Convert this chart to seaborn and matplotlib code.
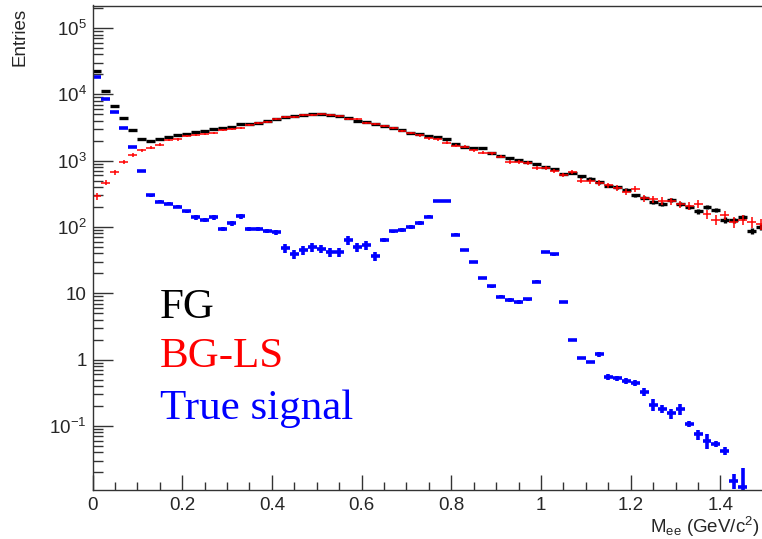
import numpy as np
import pandas as pd
import matplotlib
matplotlib.use("Agg")
import matplotlib.pyplot as plt
import seaborn as sns
from matplotlib.ticker import FixedLocator, FixedFormatter, LogLocator, MultipleLocator, NullFormatter

# ---------------- data ----------------
bin_width = 0.02  # GeV/c^2, first bin starts at 0

fg = [22500, 11400, 6760, 4360, 2900, 2100, 2004, 2100, 2253, 2443,
      2500, 2710, 2805, 2978, 3083, 3260, 3540, 3565, 3740, 4010,
      4210, 4560, 4770, 4940, 5010, 5010, 4940, 4720, 4360, 4010,
      3835, 3580, 3375, 3113, 2875, 2590, 2500, 2333, 2253, 2147,
      1805, 1626, 1538, 1570, 1321, 1165, 1087, 1035, 966, 901,
      812, 741, 630, 659, 582, 535, 472, 420, 395, 365,
      301, 277, 236, 225, 255, 220, 203, 172, 198, 180,
      128, 126, 140, 88, 101, 98]

bg_ls = [294, 466, 669, 955, 1220, 1435, 1570, 1743, 2052, 2100,
         2360, 2443, 2555, 2645, 2904, 3008, 3113, 3452, 3665, 3835,
         4210, 4520, 4520, 4840, 4940, 5010, 4890, 4720, 4256, 4220,
         3740, 3580, 3335, 3113, 2835, 2590, 2415, 2177, 2103, 1870,
         1683, 1626, 1450, 1321, 1294, 1150, 966, 946, 923, 768,
         777, 700, 609, 676, 499, 494, 460, 425, 392, 340,
         370, 271, 260, 250, 245, 220, 207, 222, 155, 128,
         150, 120, 128, 120, 111, 101]

true_signal = [18300, 8430, 5370, 3150, 1627, 692, 301, 241, 225, 203,
               174, 140, 128, 140, 94, 114, 145, 94, 94, 87,
               83, 48, 39, 45, 50, 47, 41.5, 41.5, 63, 50,
               53, 36, 64, 86, 90, 100, 116, 143, 249, 249,
               77, 44.5, 29.7, 17.2, 12.7, 8.9, 8.0, 7.4, 8.1, 15,
               41.5, 38.7, 7.4, 1.98, 1.06, 0.92, 1.2, 0.55, 0.52, 0.48,
               0.45, 0.33, 0.21, 0.18, 0.155, 0.18, 0.106, 0.075, 0.060, 0.054,
               0.042, 0.0148, 0.0121, np.nan, np.nan, np.nan]

# relative statistical error of the true signal
signal_rel_err = [0.01, 0.01, 0.01, 0.01, 0.01, 0.01, 0.05, 0.05, 0.05, 0.05,
                  0.05, 0.08, 0.08, 0.08, 0.08, 0.08, 0.08, 0.08, 0.08, 0.08,
                  0.08, 0.15, 0.15, 0.15, 0.15, 0.15, 0.15, 0.15, 0.15, 0.15,
                  0.15, 0.15, 0.06, 0.06, 0.06, 0.06, 0.06, 0.06, 0.03, 0.03,
                  0.04, 0.04, 0.04, 0.04, 0.04, 0.06, 0.06, 0.06, 0.06, 0.04,
                  0.04, 0.04, 0.04, 0.05, 0.05, 0.05, 0.08, 0.10, 0.10, 0.10,
                  0.10, 0.13, 0.20, 0.13, 0.17, 0.20, 0.10, 0.17, 0.24, 0.10,
                  0.13, 0.25, 0.90, 0.0, 0.0, 0.0]

series_names = ["FG", "BG-LS", "True signal"]
series_colors = ["black", "#ff0000", "#0000ff"]

x_tick_values = [0, 0.2, 0.4, 0.6, 0.8, 1.0, 1.2, 1.4]
x_tick_labels = ["0", "0.2", "0.4", "0.6", "0.8", "1", "1.2", "1.4"]
y_tick_values = [1e5, 1e4, 1e3, 1e2, 10, 1, 0.1]
y_tick_labels = [r"$\mathregular{10^{5}}$", r"$\mathregular{10^{4}}$", r"$\mathregular{10^{3}}$",
                 r"$\mathregular{10^{2}}$", "10", "1", r"$\mathregular{10^{-1}}$"]

# ---------------- table ----------------
n = len(fg)
centers = bin_width * (np.arange(n) + 0.5)
df = pd.DataFrame({
    "mass": centers,
    "FG": fg,
    "FG_err": np.sqrt(np.array(fg, dtype=float)),
    "BG-LS": bg_ls,
    "BG-LS_err": 2.0 * np.sqrt(np.array(bg_ls, dtype=float)),
    "True signal": true_signal,
    "True signal_err": np.array(true_signal) * np.array(signal_rel_err),
})

# ---------------- style ----------------
sns.set_style("ticks")
plt.rcParams["font.family"] = ["Liberation Sans", "DejaVu Sans"]
plt.rcParams["mathtext.fontset"] = "custom"
plt.rcParams["mathtext.rm"] = "Liberation Sans"
plt.rcParams["mathtext.it"] = "Liberation Sans:italic"

W, H = 762, 539
fig = plt.figure(figsize=(W / 100, H / 100), dpi=100)
ax = fig.add_axes([92.5 / W, (H - 490) / H, (W - 92.5) / W + 0.01, (490 - 5.5) / H])

widths = {"FG": 2.4, "BG-LS": 1.1, "True signal": 2.6}
for name, color in zip(series_names, series_colors):
    y = df[name].to_numpy(dtype=float)
    e = df[name + "_err"].to_numpy(dtype=float)
    lower = np.minimum(e, y * 0.999)
    ax.errorbar(df["mass"], y, xerr=bin_width / 2, yerr=[lower, e],
                fmt="none", ecolor=color, elinewidth=widths[name], capsize=0)

ax.set_yscale("log")
ax.set_xlim(0, 1.5096)
ax.set_ylim(10 ** -1.967, 10 ** 5.341)

ax.xaxis.set_major_locator(FixedLocator(x_tick_values))
ax.xaxis.set_major_formatter(FixedFormatter(x_tick_labels))
ax.xaxis.set_minor_locator(MultipleLocator(0.05))
ax.yaxis.set_major_locator(FixedLocator(y_tick_values))
ax.yaxis.set_major_formatter(FixedFormatter(y_tick_labels))
ax.yaxis.set_minor_locator(LogLocator(base=10, subs=np.arange(2, 10)))
ax.yaxis.set_minor_formatter(NullFormatter())

ax.tick_params(axis="x", which="major", direction="in", length=10.8, width=1, labelsize=13.5, pad=5, color="#333333")
ax.tick_params(axis="x", which="minor", direction="in", length=5.5, width=1, color="#333333")
ax.tick_params(axis="y", which="major", direction="in", length=14.4, width=1, labelsize=13.5, pad=4, color="#333333")
ax.tick_params(axis="y", which="minor", direction="in", length=7.2, width=1, color="#333333")
for s in ax.spines.values():
    s.set_color("#333333")
    s.set_linewidth(1.0)

ax.set_xlabel("")
ax.set_ylabel("")
fig.text(20 / W, 1 - 8 / H, "Entries", rotation=90, ha="center", va="top", fontsize=13.5)
fig.text(760 / W, (H - 533) / H, r"M$_{\mathregular{ee}}$ (GeV/c$^{\mathregular{2}}$)",
         ha="right", va="baseline", fontsize=13.5)

baselines = [318, 367, 419]
for name, color, yb in zip(series_names, series_colors, baselines):
    fig.text(160 / W, (H - yb) / H, name, color=color, fontsize=31,
             family=["Liberation Serif", "DejaVu Serif"], ha="left", va="baseline")

fig.savefig("out.png", dpi=100)
